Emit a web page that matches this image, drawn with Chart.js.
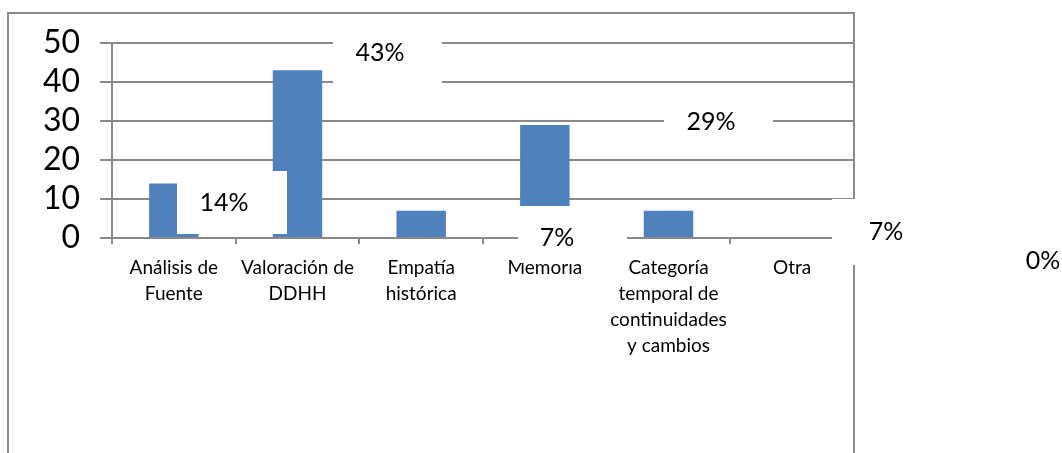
<!DOCTYPE html>
<html>
<head>
<meta charset="utf-8">
<script src="https://cdn.jsdelivr.net/npm/chart.js@4.4.1/dist/chart.umd.min.js"></script>
<style>
    body { margin: 0; background: #ffffff; }
    #wrap { width: 1062px; height: 453px; position: relative; }
</style>
</head>
<body>
<div id="wrap"><canvas id="chart"></canvas></div>
<script>
// Datos
const categories = [
    ['Análisis de', 'Fuente'],
    ['Valoración de', 'DDHH'],
    ['Empatía', 'histórica'],
    ['Memoria'],
    ['Categoría', 'temporal de', 'continuidades', 'y cambios'],
    ['Otra']
];
const values = [14, 43, 7, 29, 7, 0];
const yTicks = [0, 10, 20, 30, 40, 50];

// Cajas blancas de las etiquetas de porcentaje: [x, y, ancho, alto, textoX, textoY]
const labelBoxes = [
    [177, 171, 110, 63, 224, 203],
    [333, 20, 109, 66, 380, 53],
    [518, 206, 109, 57, 557, 238],
    [664, 90, 109, 66, 711, 122],
    [832, 199, 110, 66, 886, 232],
    [990, 228, 110, 66, 1043, 261]
];

const gridColor = '#8a8a8a';
const barColor = '#4f81bd';
const total = values.reduce((a, b) => a + b, 0);

const framePlugin = {
    id: 'frame',
    beforeDraw(chart) {
        const ctx = chart.ctx;
        const right = chart.chartArea.right;
        ctx.save();
        ctx.strokeStyle = gridColor;
        ctx.lineWidth = 2;
        ctx.strokeRect(8, 13, right - 8, 470);
        ctx.restore();
    },
    afterDraw(chart) {
        const ctx = chart.ctx;
        ctx.save();
        labelBoxes.forEach((b, i) => {
            ctx.fillStyle = '#ffffff';
            ctx.fillRect(b[0], b[1], b[2], b[3]);
            ctx.fillStyle = '#000000';
            ctx.font = "25px Lato";
            ctx.textAlign = 'center';
            ctx.textBaseline = 'middle';
            ctx.fillText(Math.round(values[i] / total * 100) + '%', b[4], b[5]);
        });
        ctx.restore();
    }
};

new Chart(document.getElementById('chart'), {
    type: 'bar',
    data: {
        labels: categories,
        datasets: [{
            data: values,
            backgroundColor: barColor,
            borderWidth: 0,
            categoryPercentage: 1,
            barPercentage: 0.4
        }]
    },
    options: {
        responsive: true,
        maintainAspectRatio: false,
        animation: false,
        layout: {
            padding: { top: 43, right: 208, left: 0, bottom: 0 }
        },
        plugins: {
            legend: { display: false },
            tooltip: { enabled: false }
        },
        scales: {
            y: {
                min: 0,
                max: 50,
                afterFit(scale) { scale.width = 112; },
                afterBuildTicks(scale) {
                    scale.ticks = yTicks.map(v => ({ value: v }));
                },
                grid: {
                    color: gridColor,
                    lineWidth: 2,
                    tickLength: 12
                },
                border: { color: gridColor, width: 2 },
                ticks: {
                    autoSkip: false,
                    color: '#000000',
                    padding: 20,
                    font: { family: 'Lato', size: 32, lineHeight: 1 }
                }
            },
            x: {
                afterFit(scale) { scale.height = 215; },
                grid: {
                    drawOnChartArea: false,
                    color: gridColor,
                    lineWidth: 2,
                    tickLength: 6
                },
                border: { color: gridColor, width: 2 },
                ticks: {
                    autoSkip: false,
                    maxRotation: 0,
                    color: '#000000',
                    padding: 11,
                    font: { family: 'Lato', size: 19, lineHeight: 1.37 }
                }
            }
        }
    },
    plugins: [framePlugin]
});
</script>
</body>
</html>
